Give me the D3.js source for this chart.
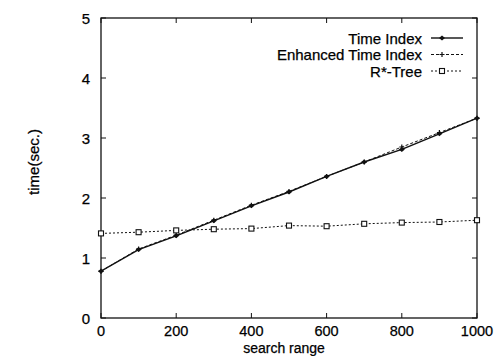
<!DOCTYPE html>
<html>
<head>
<meta charset="utf-8">
<script src="https://cdn.jsdelivr.net/npm/d3@7"></script>
<style>
  body { margin: 0; background: #fff; }
  text { font-family: "Liberation Sans", Arial, sans-serif; fill: #000; stroke: #000; stroke-width: 0.25px; }
</style>
</head>
<body>
<svg id="chart" width="496" height="356"></svg>
<script>
const searchRange = [0, 100, 200, 300, 400, 500, 600, 700, 800, 900, 1000];
const timeIndex = [0.78, 1.14, 1.37, 1.62, 1.87, 2.1, 2.36, 2.6, 2.81, 3.07, 3.33];
const enhancedTimeIndex = [0.78, 1.15, 1.38, 1.63, 1.88, 2.11, 2.36, 2.6, 2.85, 3.09, 3.33];
const rTree = [1.41, 1.43, 1.46, 1.48, 1.49, 1.54, 1.53, 1.57, 1.59, 1.6, 1.63];
const xTicks = [0, 200, 400, 600, 800, 1000];
const yTicks = [0, 1, 2, 3, 4, 5];
const seriesNames = ["Time Index", "Enhanced Time Index", "R*-Tree"];

const margin = { top: 18, right: 19, bottom: 38, left: 101 },
      width = 496 - margin.left - margin.right,
      height = 356 - margin.top - margin.bottom;

const svg = d3.select("#chart")
  .append("g")
  .attr("transform", `translate(${margin.left},${margin.top})`);

const x = d3.scaleLinear().domain([0, 1000]).range([0, width]);
const y = d3.scaleLinear().domain([0, 5]).range([height, 0]);

// frame
svg.append("rect")
  .attr("width", width).attr("height", height)
  .attr("fill", "none").attr("stroke", "#111").attr("stroke-width", 1.3);

// ticks (inward, mirrored)
const tick = 5;
xTicks.forEach(t => {
  svg.append("line").attr("x1", x(t)).attr("x2", x(t)).attr("y1", height).attr("y2", height - tick).attr("stroke", "#111");
  svg.append("line").attr("x1", x(t)).attr("x2", x(t)).attr("y1", 0).attr("y2", tick).attr("stroke", "#111");
  svg.append("text").attr("x", x(t)).attr("y", height + 18)
    .attr("text-anchor", "middle").style("font-size", "14.5px").text(t);
});
yTicks.forEach(t => {
  svg.append("line").attr("x1", 0).attr("x2", tick).attr("y1", y(t)).attr("y2", y(t)).attr("stroke", "#111");
  svg.append("line").attr("x1", width).attr("x2", width - tick).attr("y1", y(t)).attr("y2", y(t)).attr("stroke", "#111");
  svg.append("text").attr("x", -11).attr("y", y(t) + 5.5)
    .attr("text-anchor", "end").style("font-size", "15px").text(t);
});

// axis labels
svg.append("text")
  .attr("x", width / 2 - 5).attr("y", height + 34.5)
  .attr("text-anchor", "middle").style("font-size", "14px").text("search range");
svg.append("text")
  .attr("transform", "rotate(-90)")
  .attr("x", -y(2.6)).attr("y", -62)
  .attr("text-anchor", "middle").style("font-size", "15px").text("time(sec.)");

const line = d3.line().x((d, i) => x(searchRange[i])).y(d => y(d));

const series = [
  { name: seriesNames[0], values: timeIndex, dash: null, marker: "dot" },
  { name: seriesNames[1], values: enhancedTimeIndex, dash: "3,2", marker: "plus" },
  { name: seriesNames[2], values: rTree, dash: "2,2", marker: "square" }
];

function drawMarker(g, type, cx, cy) {
  if (type === "dot") {
    g.append("path").attr("d", `M${cx - 3},${cy}L${cx},${cy - 2.5}L${cx + 3},${cy}L${cx},${cy + 2.5}Z`).attr("fill", "#111");
  } else if (type === "plus") {
    g.append("path").attr("d", `M${cx - 2.5},${cy}H${cx + 2.5}M${cx},${cy - 2.5}V${cy + 2.5}`).attr("stroke", "#111").attr("stroke-width", 1.2);
  } else {
    g.append("rect").attr("x", cx - 2.5).attr("y", cy - 2.5).attr("width", 5).attr("height", 5)
      .attr("fill", "#fff").attr("stroke", "#111").attr("stroke-width", 1.1);
  }
}

series.forEach(s => {
  svg.append("path")
    .datum(s.values)
    .attr("fill", "none")
    .attr("stroke", "#111")
    .attr("stroke-width", s.dash ? 1 : 1.4)
    .attr("stroke-dasharray", s.dash)
    .attr("d", line);
  const g = svg.append("g");
  s.values.forEach((v, i) => drawMarker(g, s.marker, x(searchRange[i]), y(v)));
});

// legend
series.forEach((s, i) => {
  const ly = 20 + i * 16.5;
  svg.append("text").attr("x", 321).attr("y", ly + 5.5)
    .attr("text-anchor", "end").style("font-size", "15px").text(s.name);
  svg.append("line").attr("x1", 330).attr("x2", 362).attr("y1", ly).attr("y2", ly)
    .attr("stroke", "#111").attr("stroke-width", s.dash ? 1 : 1.4).attr("stroke-dasharray", s.dash);
  drawMarker(svg, s.marker, 341, ly);
});
</script>
</body>
</html>
